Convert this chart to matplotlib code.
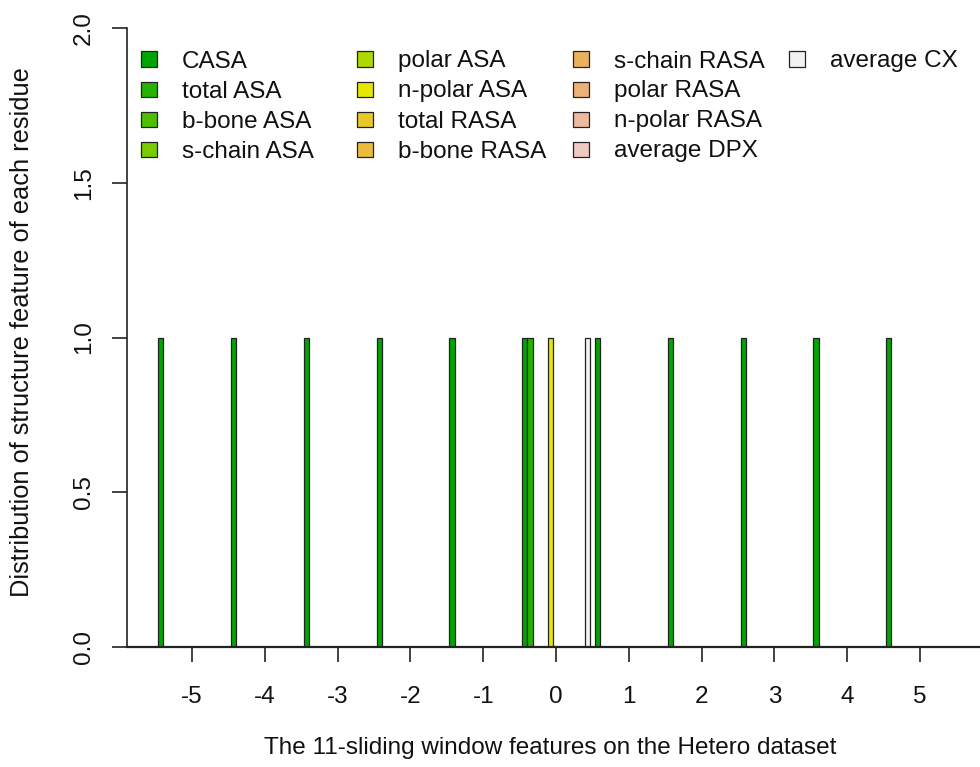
import matplotlib
matplotlib.use("Agg")
import matplotlib.pyplot as plt
from matplotlib.patches import Rectangle
import numpy as np

plt.rcParams["font.family"] = ["Liberation Sans", "DejaVu Sans"]

# Window positions around the residue
positions = [-5, -4, -3, -2, -1, 0, 1, 2, 3, 4, 5]

# Structure features (one bar per feature inside each window group)
features = ["CASA", "total ASA", "b-bone ASA", "s-chain ASA", "polar ASA",
            "n-polar ASA", "total RASA", "b-bone RASA", "s-chain RASA",
            "polar RASA", "n-polar RASA", "average DPX", "average CX"]

# terrain-style palette, one colour per feature
colors = ["#00A600", "#24B300", "#4DBF00", "#7ACC00", "#ADD900", "#E6E600",
          "#E8C727", "#E9BD3A", "#EBB25E", "#ECB176", "#EEB99F", "#F0C9C0",
          "#F2F2F2"]

# Selected-feature indicator per window position
casa         = [1, 1, 1, 1, 1, 1, 1, 1, 1, 1, 1]
total_asa    = [0, 0, 0, 0, 0, 1, 0, 0, 0, 0, 0]
bbone_asa    = [0, 0, 0, 0, 0, 0, 0, 0, 0, 0, 0]
schain_asa   = [0, 0, 0, 0, 0, 0, 0, 0, 0, 0, 0]
polar_asa    = [0, 0, 0, 0, 0, 0, 0, 0, 0, 0, 0]
npolar_asa   = [0, 0, 0, 0, 0, 1, 0, 0, 0, 0, 0]
total_rasa   = [0, 0, 0, 0, 0, 0, 0, 0, 0, 0, 0]
bbone_rasa   = [0, 0, 0, 0, 0, 0, 0, 0, 0, 0, 0]
schain_rasa  = [0, 0, 0, 0, 0, 0, 0, 0, 0, 0, 0]
polar_rasa   = [0, 0, 0, 0, 0, 0, 0, 0, 0, 0, 0]
npolar_rasa  = [0, 0, 0, 0, 0, 0, 0, 0, 0, 0, 0]
average_dpx  = [0, 0, 0, 0, 0, 0, 0, 0, 0, 0, 0]
average_cx   = [0, 0, 0, 0, 0, 1, 0, 0, 0, 0, 0]

values = np.array([casa, total_asa, bbone_asa, schain_asa, polar_asa,
                   npolar_asa, total_rasa, bbone_rasa, schain_rasa,
                   polar_rasa, npolar_rasa, average_dpx, average_cx], dtype=float)

W, H = 980, 767
FS = 17.5


def fx(px):
    return px / W


def fy(py):
    return 1 - py / H


fig = plt.figure(figsize=(W / 100, H / 100), dpi=100)
ax = fig.add_axes([fx(127), fy(646.7), fx(980) - fx(127), fy(28.3) - fy(646.7)])

n_feat = len(features)
group_units = n_feat + 1          # bars plus one gap per group
bar_w = 1.0 / group_units
x = np.array(positions, dtype=float)

for i in range(n_feat):
    offs = (i - (n_feat - 1) / 2) * bar_w
    ax.bar(x + offs, values[i], width=bar_w, color=colors[i],
           edgecolor="#222222", linewidth=0.9, zorder=2)

# axis limits: y axis sits at the left edge of the plotting region
ax.set_ylim(0, 2)
ax.set_xlim(-5.894, 5.823)

for s in ("top", "right"):
    ax.spines[s].set_visible(False)
ax.spines["left"].set_bounds(0, 2)
ax.spines["left"].set_linewidth(1.2)
ax.spines["bottom"].set_linewidth(1.6)
ax.spines["left"].set_color("#222222")
ax.spines["bottom"].set_color("#222222")

ax.set_xticks(positions)
ax.set_xticklabels([str(p) for p in positions], fontsize=FS)
ax.set_yticks([0, 0.5, 1.0, 1.5, 2.0])
ax.set_yticklabels(["0.0", "0.5", "1.0", "1.5", "2.0"], fontsize=FS,
                   rotation=90, va="center")
ax.tick_params(axis="both", direction="out", length=11, width=1.2,
               color="#222222", labelcolor="#111111")
ax.tick_params(axis="x", pad=17)
ax.tick_params(axis="y", pad=12)

fig.text(fx(550), fy(748), "The 11-sliding window features on the Hetero dataset",
         ha="center", va="center", fontsize=FS, color="#111111")
fig.text(fx(22), fy(332), "Distribution of structure feature of each residue",
         ha="center", va="center", rotation=90, fontsize=18.3, color="#111111")

# legend laid out in four equal-width columns
col_box = [141, 357, 573, 789]
row_y = [59, 89, 119, 149]
box_w, box_h = 16, 15
for k, (name, col) in enumerate(zip(features, colors)):
    c, r = k // 4, k % 4
    bx, by = col_box[c], row_y[r]
    fig.patches.append(Rectangle((fx(bx), fy(by + box_h / 2)),
                                 fx(box_w), box_h / H,
                                 transform=fig.transFigure,
                                 facecolor=col, edgecolor="#222222",
                                 linewidth=0.9))
    fig.text(fx(bx + 40.5), fy(by), name, ha="left", va="center_baseline",
             fontsize=FS, color="#111111")

fig.savefig("out.png", dpi=100, facecolor="white")
